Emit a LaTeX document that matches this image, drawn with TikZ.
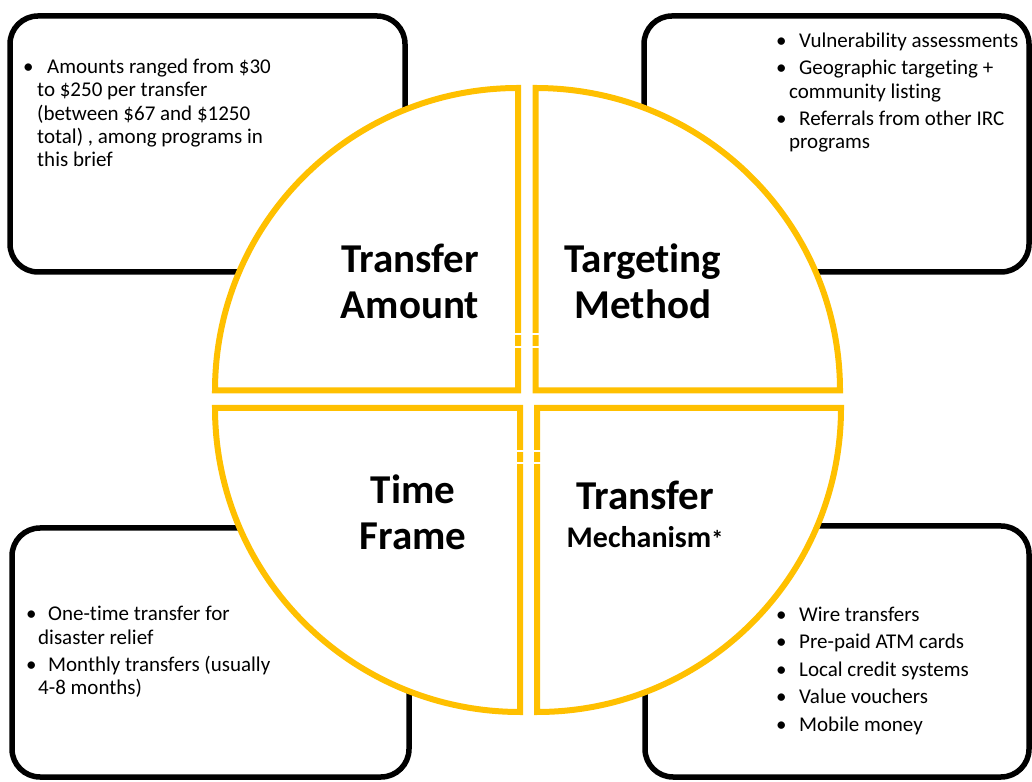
\documentclass[tikz,border=0pt]{standalone}
\usepackage{fontspec}
\setmainfont{Carlito}[Ligatures=NoCommon]
\usepackage{tikz}

\definecolor{gold}{HTML}{FFC000}
\newcommand{\bul}[1]{\makebox[#1][l]{\textbullet}}

\begin{document}
\begin{tikzpicture}[x=1pt,y=1pt,
    box/.style={line width=5.5pt, rounded corners=28pt},
    quarter/.style={draw=gold, fill=white, line width=6pt, line join=miter},
    title/.style={align=center, inner sep=0pt, anchor=base, font=\fontsize{41}{46.5}\selectfont\bfseries},
    list/.style={align=left, inner sep=0pt, anchor=base west, font=\fontsize{21}{23.4}\selectfont}]
    \useasboundingbox (0,0) rectangle (1032,781);

    % outer boxes
    \draw[box] (10,509) rectangle (405,765);
    \draw[box] (644,509) rectangle (1029,765);
    \draw[box] (12,4) rectangle (409,253);
    \draw[box] (645,4) rectangle (1029,255);

    % four quarters
    \draw[quarter] (518,390.5) -- (215,390.5) arc[start angle=180, end angle=90, x radius=303, y radius=302.5] -- cycle;
    \draw[quarter] (535.5,390.5) -- (535.5,693) arc[start angle=90, end angle=0, x radius=304.5, y radius=302.5] -- cycle;
    \draw[quarter] (520,373) -- (215,373) arc[start angle=180, end angle=270, x radius=305, y radius=304] -- cycle;
    \draw[quarter] (537,373) -- (537,69) arc[start angle=270, end angle=360, x radius=304, y radius=304] -- cycle;
    \draw[white, line width=1.5pt] (512,447) -- (542,447) (512,434) -- (542,434)
                                   (514,330) -- (544,330) (514,318) -- (544,318);

    % titles sit on the baseline of their last line
    \node[title] (amount) at (410,462) {Transfer\\Amount};
    \node[title] (targeting) at (643,462) {Targeting\\Method};
    \node[title] (timeframe) at (413,231) {Time\\Frame};
    \node[title, font=\fontsize{41}{38.3}\selectfont\bfseries] (mechanism) at (645,233)
        {Transfer\\{\fontsize{30}{36}\selectfont Mechanism{\fontsize{24}{24}\selectfont*}}};

    \node[list] (amountlist) at (23,614) {\bul{24pt}Amounts ranged from \$30\\
        \hspace*{14pt}to \$250 per transfer\\
        \hspace*{14pt}(between \$67 and \$1250\\
        \hspace*{14pt}total) , among programs in\\
        \hspace*{14pt}this brief};
    \node[list] (targetlist) at (776,632) {\bul{23pt}Vulnerability assessments\\[4pt]
        \bul{23pt}Geographic targeting +\\
        \hspace*{13pt}community listing\\[4pt]
        \bul{23pt}Referrals from other IRC\\
        \hspace*{13pt}programs};
    \node[list] (timelist) at (26,86) {\bul{22pt}One-time transfer for\\
        \hspace*{12pt}disaster relief\\[4pt]
        \bul{22pt}Monthly transfers (usually\\
        \hspace*{12pt}4-8 months)};
    \node[list] (mechlist) at (776,50) {\bul{23pt}Wire transfers\\[4pt]
        \bul{23pt}Pre-paid ATM cards\\[4pt]
        \bul{23pt}Local credit systems\\[4pt]
        \bul{23pt}Value vouchers\\[4pt]
        \bul{23pt}Mobile money};
\end{tikzpicture}
\end{document}
